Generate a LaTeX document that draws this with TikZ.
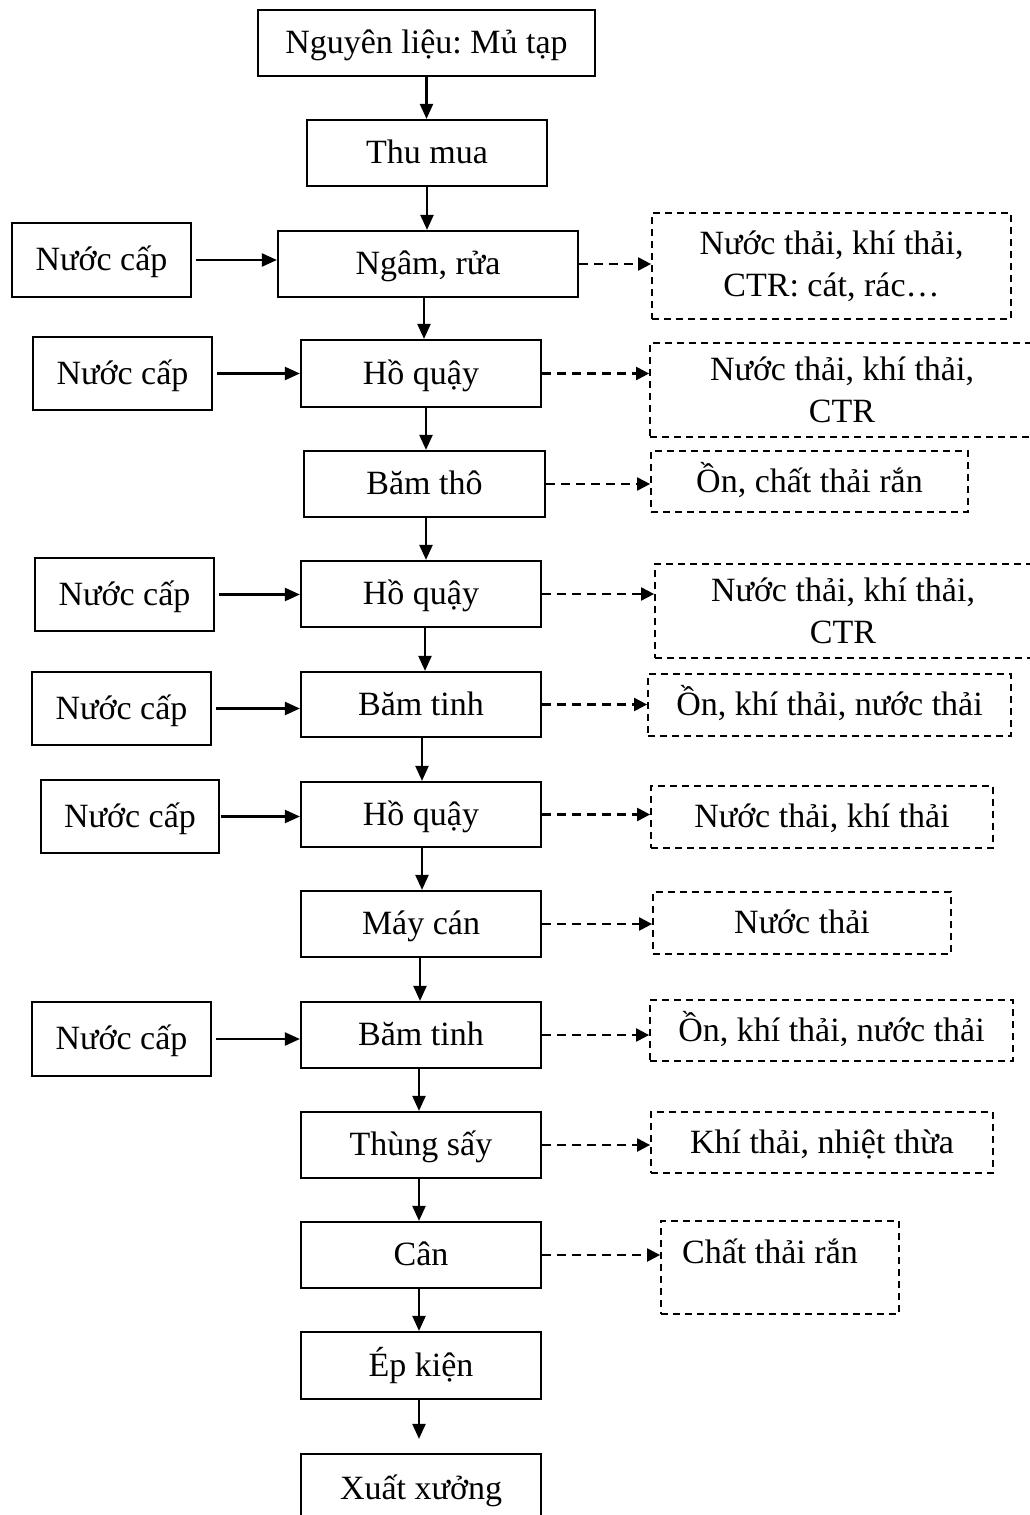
\documentclass[tikz,border=0pt]{standalone}
\usepackage{fontspec}
\setmainfont{Liberation Serif}
\usetikzlibrary{arrows.meta}
\frenchspacing
\begin{document}
\begin{tikzpicture}[x=1pt,y=-1pt,
  every node/.style={font=\fontsize{34}{42}\selectfont, inner sep=0pt},
  oneline/.style={text height=27pt, text depth=6pt},
  stepbox/.style={draw, line width=2.2pt, minimum width=240pt, minimum height=66pt, oneline},
  waterbox/.style={draw, line width=2.2pt, minimum width=179pt, minimum height=73pt, oneline},
  wastebox/.style={draw, line width=1.8pt, dash pattern=on 7pt off 5pt},
  flow/.style={line width=2.2pt, -{Triangle[length=15pt,width=13pt]}},
  waste/.style={line width=2.2pt, dash pattern=on 9pt off 6pt, -{Triangle[length=13pt,width=13pt]}}
]
\useasboundingbox (0,0) rectangle (1030,1515);
\fill[white] (0,0) rectangle (1030,1515);
\clip (0,0) rectangle (1030,1515);

% main process column
\node[stepbox, minimum width=337pt] (nguyen) at (426.5,43) {Nguyên liệu: Mủ tạp};
\node[stepbox] (thumua) at (427,153) {Thu mua};
\node[stepbox, minimum width=300pt] (ngam) at (428,264) {Ngâm, rửa};
\node[stepbox, minimum height=67pt] (ho1) at (421,373.5) {Hồ quậy};
\node[stepbox, minimum width=241pt] (bamtho) at (424.5,484) {Băm thô};
\node[stepbox] (ho2) at (421,594) {Hồ quậy};
\node[stepbox, minimum height=65pt] (bt1) at (421,704.5) {Băm tinh};
\node[stepbox, minimum height=65pt] (ho3) at (421,814.5) {Hồ quậy};
\node[stepbox] (maycan) at (421,924) {Máy cán};
\node[stepbox] (bt2) at (421,1035) {Băm tinh};
\node[stepbox] (say) at (421,1145) {Thùng sấy};
\node[stepbox] (can) at (421,1255) {Cân};
\node[stepbox, minimum height=67pt] (ep) at (421,1365.5) {Ép kiện};
\node[stepbox, minimum height=70pt] (xuat) at (421,1489) {Xuất xưởng};

% water inputs
\node[waterbox, minimum height=74pt] (nc1) at (101.5,260) {Nước cấp};
\node[waterbox] (nc2) at (122.5,373.5) {Nước cấp};
\node[waterbox] (nc3) at (124.5,594.5) {Nước cấp};
\node[waterbox] (nc4) at (121.5,708.5) {Nước cấp};
\node[waterbox, minimum width=178pt] (nc5) at (130,816.5) {Nước cấp};
\node[waterbox, minimum height=74pt] (nc6) at (121.5,1039) {Nước cấp};

% waste outputs
\node[wastebox, align=center, minimum width=359pt, minimum height=106pt] (o1) at (831.5,266) {Nước thải, khí thải,\\CTR: cát, rác…};
\node[wastebox, align=center, minimum width=384pt, minimum height=94pt] (o2) at (842,390) {Nước thải, khí thải,\\CTR};
\node[wastebox, oneline, minimum width=317pt, minimum height=61pt] (o3) at (809.5,481.5) {Ồn, chất thải rắn};
\node[wastebox, align=center, minimum width=376pt, minimum height=94pt] (o4) at (843,611) {Nước thải, khí thải,\\CTR};
\node[wastebox, oneline, minimum width=363pt, minimum height=62pt] (o5) at (829.5,705) {Ồn, khí thải, nước thải};
\node[wastebox, oneline, minimum width=342pt, minimum height=62pt] (o6) at (822,817) {Nước thải, khí thải};
\node[wastebox, oneline, minimum width=298pt, minimum height=62pt] (o7) at (802,923) {Nước thải};
\node[wastebox, oneline, minimum width=363pt, minimum height=61pt] (o8) at (831.5,1030.5) {Ồn, khí thải, nước thải};
\node[wastebox, oneline, minimum width=342pt, minimum height=61pt] (o9) at (822,1142.5) {Khí thải, nhiệt thừa};
\node[wastebox, minimum width=238pt, minimum height=93pt] (o10) at (780,1267.5) {};
\node[oneline] (o10t) at (770,1253) {Chất thải rắn};

% main flow
\draw[flow] (nguyen.south) -- (nguyen.south |- thumua.north);
\draw[flow] (thumua.south) -- (thumua.south |- ngam.north);
\draw[flow] ([xshift=-4pt]ngam.south) -- ([xshift=-4pt]ngam.south |- ho1.north);
\draw[flow] ([xshift=5pt]ho1.south) -- ([xshift=5pt]ho1.south |- bamtho.north);
\draw[flow] ([xshift=1.5pt]bamtho.south) -- ([xshift=1.5pt]bamtho.south |- ho2.north);
\draw[flow] ([xshift=4pt]ho2.south) -- ([xshift=4pt]ho2.south |- bt1.north);
\draw[flow] ([xshift=1pt]bt1.south) -- ([xshift=1pt]bt1.south |- ho3.north);
\draw[flow] ([xshift=1pt]ho3.south) -- ([xshift=1pt]ho3.south |- maycan.north);
\draw[flow] ([xshift=-1pt]maycan.south) -- ([xshift=-1pt]maycan.south |- bt2.north);
\draw[flow] ([xshift=-2pt]bt2.south) -- ([xshift=-2pt]bt2.south |- say.north);
\draw[flow] ([xshift=-2pt]say.south) -- ([xshift=-2pt]say.south |- can.north);
\draw[flow] ([xshift=-2pt]can.south) -- ([xshift=-2pt]can.south |- ep.north);
\draw[flow, shorten >=14pt] ([xshift=-2pt]ep.south) -- ([xshift=-2pt]ep.south |- xuat.north);

% water supply arrows
\draw[flow, shorten <=4pt] (nc1.east) -- (nc1.east -| ngam.west);
\draw[flow, shorten <=4pt] (nc2.east) -- (nc2.east -| ho1.west);
\draw[flow, shorten <=4pt] (nc3.east) -- (nc3.east -| ho2.west);
\draw[flow, shorten <=4pt] (nc4.east) -- (nc4.east -| bt1.west);
\draw[flow, shorten <=1pt] (nc5.east) -- (nc5.east -| ho3.west);
\draw[flow, shorten <=4pt] (nc6.east) -- (nc6.east -| bt2.west);

% waste arrows
\draw[waste] (ngam.east) -- (ngam.east -| o1.west);
\draw[waste] (ho1.east) -- (ho1.east -| o2.west);
\draw[waste] (bamtho.east) -- (bamtho.east -| o3.west);
\draw[waste] (ho2.east) -- (ho2.east -| o4.west);
\draw[waste] (bt1.east) -- (bt1.east -| o5.west);
\draw[waste] (ho3.east) -- (ho3.east -| o6.west);
\draw[waste] (maycan.east) -- (maycan.east -| o7.west);
\draw[waste] (bt2.east) -- (bt2.east -| o8.west);
\draw[waste] (say.east) -- (say.east -| o9.west);
\draw[waste] (can.east) -- (can.east -| o10.west);
\end{tikzpicture}
\end{document}
